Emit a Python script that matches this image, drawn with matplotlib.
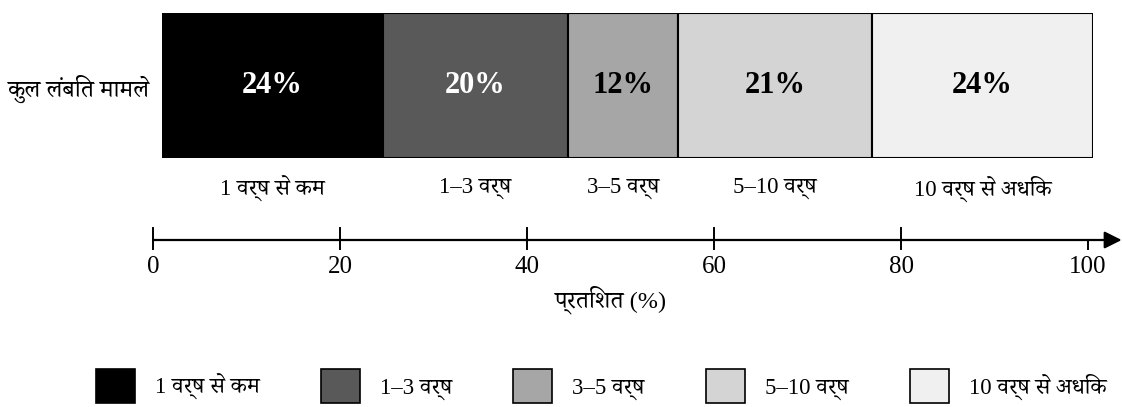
import matplotlib
matplotlib.use("Agg")
import matplotlib.pyplot as plt
from matplotlib.patches import Patch

plt.rcParams["font.family"] = [
    "Liberation Serif", "Noto Serif Devanagari", "Noto Sans Devanagari",
    "Lohit Devanagari", "Mangal", "DejaVu Sans",
]

# pending cases split by age group (percent)
categories = ["1 वर्ष से कम", "1–3 वर्ष", "3–5 वर्ष", "5–10 वर्ष", "10 वर्ष से अधिक"]
shares = [24, 20, 12, 21, 24]
row_label = "कुल लंबित मामले"
axis_ticks = [0, 20, 40, 60, 80, 100]
axis_label = "प्रतिशत (%)"

colors = ["#000000", "#595959", "#a6a6a6", "#d4d4d4", "#f0f0f0"]
text_colors = ["white", "white", "black", "black", "black"]

W, H = 1122, 407
fig = plt.figure(figsize=(W / 100, H / 100), dpi=100)


def px_axes(x0, y0, x1, y1):
    # axes placed by pixel box (top-left origin)
    return fig.add_axes([x0 / W, 1 - y1 / H, (x1 - x0) / W, (y1 - y0) / H])


# stacked bar
ax = px_axes(162, 13, 1093, 158)
left = 0
for cat, val, col, tcol in zip(categories, shares, colors, text_colors):
    ax.barh(0, val, left=left, height=1, color=col, edgecolor="black", linewidth=1.5)
    ax.text(left + val / 2, 0, f"{val}%", ha="center", va="center",
            fontsize=22, fontweight="bold", color=tcol)
    ax.text(left + val / 2, -0.71, cat, ha="center", va="center",
            fontsize=16.5, clip_on=False)
    left += val
ax.set_xlim(0, sum(shares))
ax.set_ylim(-0.5, 0.5)
ax.set_xticks([])
ax.set_yticks([0])
ax.set_yticklabels([row_label], fontsize=17.5)
ax.tick_params(axis="y", length=0, pad=8.5)
for s in ax.spines.values():
    s.set_visible(False)

# number line with arrow
ax2 = px_axes(153, 225, 1088, 255)
ax2.set_xlim(0, 100)
ax2.set_ylim(-1, 1)
ax2.axis("off")
ax2.annotate("", xy=(103.6, 0), xytext=(0, 0),
             arrowprops=dict(arrowstyle="-|>,head_length=0.4,head_width=0.2",
                             lw=1.6, color="black", mutation_scale=26,
                             shrinkA=0, shrinkB=0),
             annotation_clip=False)
for t in axis_ticks:
    top = 0.8 if t < 100 else 0.0
    ax2.plot([t, t], [-0.6, top], color="black", lw=1.4, clip_on=False)
    ax2.text(t, -1.8, str(t), ha="center", va="center", fontsize=18, clip_on=False)
ax2.text(49, -4.0, axis_label, ha="center", va="center", fontsize=17.5, clip_on=False)

# legend, swatches run off the bottom edge
handles = [Patch(facecolor=c, edgecolor="black", linewidth=1.2) for c in colors]
fig.legend(handles, categories, loc="lower left", bbox_to_anchor=(96 / W, 4 / H),
           ncol=5, frameon=False, fontsize=16.5, handlelength=1.7, handleheight=1.9,
           handletextpad=0.87, columnspacing=2.68, borderpad=0, borderaxespad=0)

fig.savefig("out.png", dpi=100, facecolor="white")
